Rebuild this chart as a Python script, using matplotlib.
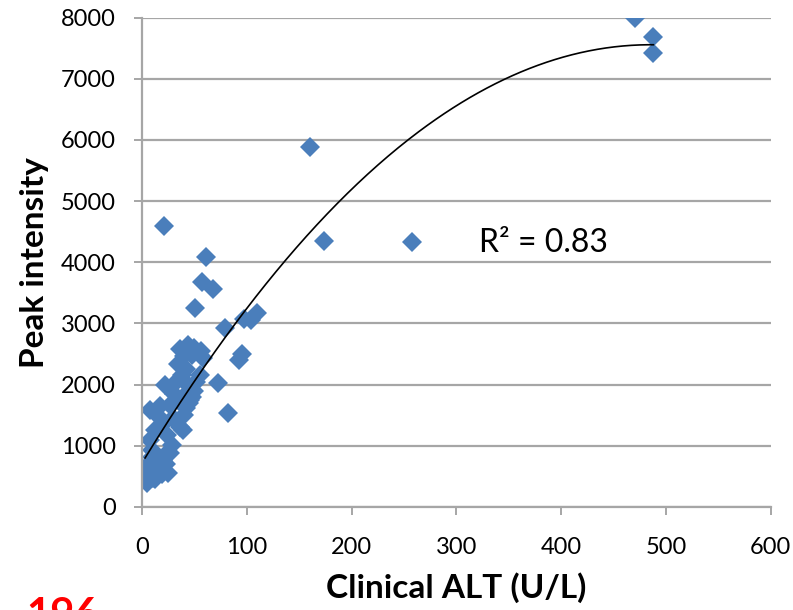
import matplotlib.pyplot as plt
import numpy as np

# Clinical ALT (U/L) vs peak intensity
alt = [
    470, 488, 488, 160, 174, 258,
    21, 61, 57, 68, 51, 79, 97, 104, 110,
    95, 93, 73, 82,
    36, 44, 50, 56, 40, 48, 58, 34, 42, 38, 30, 45,
    8, 19, 27, 41, 46, 42, 39, 34, 22, 36, 30, 14, 24, 12, 17, 31,
    45, 50, 40, 52, 48, 55,
    5, 8, 19, 25, 3, 15, 22, 29, 10, 8, 6, 27, 12, 18,
    4, 7, 9, 11, 13, 6, 16, 20, 10, 14, 5, 23,
]
peak = [
    8000, 7680, 7420, 5880, 4350, 4340,
    4590, 4090, 3680, 3570, 3250, 2930, 3080, 3050, 3170,
    2500, 2400, 2030, 1540,
    2580, 2640, 2600, 2550, 2460, 2480, 2430, 2330, 2250, 2150, 2000, 1980,
    1590, 1340, 1670, 1830, 1750, 1620, 1260, 1750, 1990, 1300, 1450, 1500, 1180, 1250, 1650, 1850,
    1700, 1900, 1500, 2050, 1800, 2150,
    390, 490, 540, 560, 640, 740, 850, 1010, 930, 1100, 690, 880, 450, 620,
    450, 520, 600, 480, 700, 420, 620, 760, 820, 560, 540, 700,
]

x_ticks = [0, 100, 200, 300, 400, 500, 600]
y_ticks = [0, 1000, 2000, 3000, 4000, 5000, 6000, 7000, 8000]

plt.rcParams["font.family"] = ["Lato", "DejaVu Sans"]

fig = plt.figure(figsize=(7.93, 6.10), dpi=100)
ax = fig.add_axes([0.179, 0.169, 0.793, 0.802])

grid_c = "#a6a6a6"
ax.set_axisbelow(True)
ax.yaxis.grid(True, color=grid_c, linewidth=1.6)

ax.plot(alt, peak, linestyle="none", marker="D", markersize=10,
        color="#4a7ebb", markeredgewidth=0)

# second-order polynomial trend line
coef = np.polyfit(alt, peak, 2)
xs = np.linspace(min(alt), max(alt), 300)
ax.plot(xs, np.polyval(coef, xs), color="black", linewidth=1.2)

ax.text(322, 4310, "R² = 0.83", fontsize=23, va="center", ha="left")

ax.set_xlim(0, 600)
ax.set_ylim(0, 8000)
ax.set_xticks(x_ticks)
ax.set_yticks(y_ticks)
ax.tick_params(axis="both", labelsize=17, colors=grid_c, labelcolor="black",
               length=6, width=1.4, direction="out")
ax.tick_params(axis="x", pad=16)
ax.tick_params(axis="y", pad=13)

for side in ("top", "right"):
    ax.spines[side].set_visible(False)
for side in ("left", "bottom"):
    ax.spines[side].set_color(grid_c)
    ax.spines[side].set_linewidth(1.6)

ax.set_xlabel("Clinical ALT (U/L)", fontsize=24, fontweight="bold", labelpad=10)
ax.set_ylabel("Peak intensity", fontsize=24, fontweight="bold", labelpad=8)

fig.text(0.033, 0.022, "196", color="red", fontsize=30, fontweight="bold", va="top")

fig.savefig("out.png", dpi=100)
